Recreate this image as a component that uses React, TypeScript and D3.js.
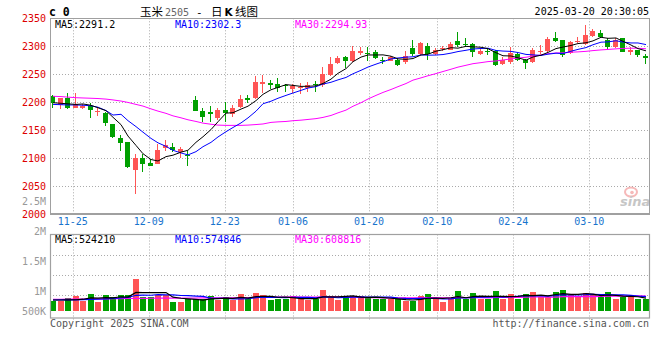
import React from "react";
import * as d3 from "d3";

// ---------- data ----------
const dates = [
  "2024-11-20","2024-11-21","2024-11-22","2024-11-25","2024-11-26","2024-11-27","2024-11-28","2024-11-29",
  "2024-12-02","2024-12-03","2024-12-04","2024-12-05","2024-12-06","2024-12-09","2024-12-10","2024-12-11",
  "2024-12-12","2024-12-13","2024-12-16","2024-12-17","2024-12-18","2024-12-19","2024-12-20","2024-12-23",
  "2024-12-24","2024-12-25","2024-12-26","2024-12-27","2024-12-30","2024-12-31","2025-01-02","2025-01-03",
  "2025-01-06","2025-01-07","2025-01-08","2025-01-09","2025-01-10","2025-01-13","2025-01-14","2025-01-15",
  "2025-01-16","2025-01-17","2025-01-20","2025-01-21","2025-01-22","2025-01-23","2025-01-24","2025-01-27",
  "2025-02-05","2025-02-06","2025-02-07","2025-02-10","2025-02-11","2025-02-12","2025-02-13","2025-02-14",
  "2025-02-17","2025-02-18","2025-02-19","2025-02-20","2025-02-21","2025-02-24","2025-02-25","2025-02-26",
  "2025-02-27","2025-02-28","2025-03-03","2025-03-04","2025-03-05","2025-03-06","2025-03-07","2025-03-10",
  "2025-03-11","2025-03-12","2025-03-13","2025-03-14","2025-03-17","2025-03-18","2025-03-19","2025-03-20",
];

const open = [
  2211,2195,2207,2189,2189,2193,2183,2181,2161,2136,2128,2079,2101,2092,2090,2118,
  2120,2111,2105,2204,2184,2182,2171,2186,2179,2192,2208,2208,2233,2235,2232,2230,
  2224,2226,2226,2232,2230,2248,2270,2280,2273,2288,2288,2289,2275,2274,2276,2271,
  2296,2287,2300,2287,2295,2294,2310,2304,2304,2287,2292,2292,2269,2272,2287,2275,
  2272,2291,2292,2315,2311,2288,2308,2304,2318,2323,2312,2298,2314,2290,2293,2282,
];
const high = [
  2213,2208,2217,2216,2197,2199,2190,2182,2161,2142,2129,2107,2108,2099,2125,2132,
  2127,2119,2113,2211,2189,2193,2189,2200,2195,2213,2213,2246,2248,2239,2244,2233,
  2232,2235,2236,2238,2263,2280,2283,2283,2300,2298,2298,2293,2280,2283,2279,2292,
  2311,2308,2305,2297,2300,2307,2325,2314,2305,2296,2296,2294,2281,2299,2289,2278,
  2296,2302,2316,2325,2312,2310,2316,2338,2330,2329,2314,2314,2314,2298,2294,2287,
];
const low = [
  2189,2188,2188,2189,2188,2172,2176,2158,2136,2113,2082,2036,2076,2085,2090,2113,
  2111,2100,2085,2185,2165,2164,2168,2165,2173,2190,2199,2205,2217,2223,2218,2218,
  2217,2215,2218,2218,2227,2246,2268,2261,2271,2285,2273,2277,2268,2273,2265,2269,
  2283,2285,2275,2285,2291,2293,2299,2300,2281,2284,2284,2265,2267,2269,2274,2260,
  2270,2287,2290,2308,2281,2287,2305,2302,2317,2314,2294,2296,2289,2284,2280,2269,
];
const close = [
  2198,2207,2189,2197,2193,2186,2185,2163,2138,2127,2084,2101,2089,2086,2114,2123,
  2114,2116,2103,2185,2173,2178,2186,2180,2189,2205,2204,2236,2236,2230,2226,2229,
  2229,2227,2231,2230,2250,2268,2279,2273,2292,2291,2287,2279,2274,2280,2267,2283,
  2286,2306,2287,2294,2296,2304,2302,2303,2290,2292,2291,2266,2276,2288,2276,2270,
  2294,2292,2313,2310,2284,2308,2309,2320,2327,2316,2299,2312,2290,2294,2284,2279,
];
const volume = [
  412000,412000,520000,600000,412000,680000,360000,628000,548000,628000,628000,1280000,572000,572000,628000,628000,
  360000,360000,468000,492000,492000,600000,440000,548000,440000,680000,468000,720000,628000,440000,492000,492000,
  600000,468000,440000,492000,840000,600000,440000,548000,600000,600000,548000,468000,468000,468000,468000,412000,
  388000,600000,680000,492000,360000,520000,812000,468000,720000,468000,468000,800000,468000,680000,492000,680000,
  760000,548000,548000,760000,840000,628000,548000,720000,628000,548000,760000,480000,572000,548000,492000,492000,
];

// moving-average values before a full window exists
const ma5Lead = [2199, 2198, 2197, 2196];
const ma10Lead = [2196, 2195.5, 2195, 2195, 2194.5, 2193.5, 2191, 2185, 2177];
const ma30Lead = [
  2210.5, 2210, 2209, 2208, 2207.5, 2207, 2206.5, 2205.5, 2204, 2202, 2199.5, 2196, 2193, 2188, 2184,
  2180, 2175.5, 2172, 2168.5, 2165.5, 2162.5, 2160.5, 2159, 2158.5, 2158.5, 2158.5, 2159, 2160, 2161,
];
const volMa5Lead = [440000, 440000, 445000, 450000];
const volMa10Lead = [440000, 442000, 445000, 448000, 452000, 460000, 470000, 485000, 500000];
const volMa30Lead = [
  470000, 470000, 472000, 475000, 478000, 480000, 484000, 488000, 492000, 496000, 500000, 505000, 508000, 510000, 512000,
  514000, 515000, 516000, 518000, 520000, 522000, 524000, 526000, 528000, 530000, 534000, 538000, 544000, 550000,
];

const priceTicks = [2000, 2050, 2100, 2150, 2200, 2250, 2300, 2350];
const xTickDates = ["2024-11-25", "2024-12-09", "2024-12-23", "2025-01-06", "2025-01-20", "2025-02-10", "2025-02-24", "2025-03-10"];
const xTickLabels = ["11-25", "12-09", "12-23", "01-06", "01-20", "02-10", "02-24", "03-10"];
const volTickValues = [2500000, 2000000, 1500000, 1000000, 500000];
const volTickLabels = ["2.5M", "2M", "1.5M", "1M", "500K"];
const priceLegend = ["MA5:2291.2", "MA10:2302.3", "MA30:2294.93"];
const volLegend = ["MA5:524210", "MA10:574846", "MA30:608816"];
const maColors = ["#000000", "#0000ff", "#ff00ff"];

// ---------- helpers ----------
function movingAvg(values: number[], n: number, lead: number[]) {
  return values.map((_, i) => (i < n - 1 ? lead[i] : (d3.mean(values.slice(i - n + 1, i + 1)) as number)));
}

const MONO = "'DejaVu Sans Mono', monospace";
const CJK = "'Noto Sans CJK SC', sans-serif";
const UP = "#ff5555";
const DOWN = "#00a000";

export default function App() {
  const P = { l: 50, r: 650, t: 18.3, b: 214 };
  const V = { l: 50, r: 650, t: 234.5, b: 318, gridB: 315.5 };

  const xBand = d3.scaleBand<string>().domain(dates).range([49.25, 649.25]).paddingInner(0.2).paddingOuter(0.1);
  const xPoint = d3.scalePoint<string>().domain(dates).range([P.l, P.r]);
  const yPrice = d3.scaleLinear().domain([2000, 2350]).range([P.b, P.t]);
  const yVol = d3.scaleLinear().domain([0, 1000000]).range([311, 286]);
  const yVolAxis = d3.scaleLinear().domain([1000000, 2000000]).range([291, 231]);

  const bw = Math.round(xBand.bandwidth());
  const bx = (i: number) => Math.round(xBand(dates[i]) as number);
  const cx = (i: number) => bx(i) + bw / 2;

  const ma5 = movingAvg(close, 5, ma5Lead);
  const ma10 = movingAvg(close, 10, ma10Lead);
  const ma30 = movingAvg(close, 30, ma30Lead);
  const vma5 = movingAvg(volume, 5, volMa5Lead);
  const vma10 = movingAvg(volume, 10, volMa10Lead);
  const vma30 = movingAvg(volume, 30, volMa30Lead);

  const priceLine = d3.line<number>().x((_, i) => cx(i)).y((v) => yPrice(v));
  const volLine = d3.line<number>().x((_, i) => cx(i)).y((v) => yVol(v));

  const volGridY = d3.range(1, 4).map((k) => V.t + (k * (V.gridB - V.t)) / 4);

  return (
    <div style={{ position: "absolute", left: 0, top: 0 }}>
      <svg width={660} height={360} style={{ display: "block", background: "#fff" }}>
        <defs>
          <clipPath id="pclip">
            <rect x={P.l} y={P.t} width={P.r - P.l} height={P.b - P.t} />
          </clipPath>
          <clipPath id="vclip">
            <rect x={V.l} y={V.t} width={V.r - V.l} height={V.b - V.t} />
          </clipPath>
        </defs>

        {/* header */}
        <text x={49} y={16} fontFamily={MONO} fontWeight="bold" fontSize={11.5} fill="#000">c 0</text>
        <text x={140} y={15.5} fontSize={11.5} fill="#000" fontFamily={CJK}>玉米</text>
        <text x={165} y={15.5} fontSize={10} fill="#666" fontFamily={MONO}>2505</text>
        <text x={196} y={15.5} fontSize={11} fill="#000" fontFamily={MONO}>-</text>
        <text x={211} y={15.5} fontSize={11.5} fill="#000" fontFamily={CJK}>日</text>
        <text x={224.5} y={15.5} fontSize={10.5} fontWeight="bold" fill="#000" fontFamily="'DejaVu Sans', sans-serif">K</text>
        <text x={235} y={15.5} fontSize={11.5} fill="#000" fontFamily={CJK}>线图</text>
        <text x={649} y={15} textAnchor="end" fontFamily={MONO} fontSize={10} fill="#000">2025-03-20 20:30:05</text>

        {/* grid */}
        <g stroke="#aaa" strokeWidth={1} strokeDasharray="1,2">
          {priceTicks.slice(1, -1).map((t) => (
            <line key={t} x1={P.l} x2={P.r} y1={Math.round(yPrice(t)) + 0.5} y2={Math.round(yPrice(t)) + 0.5} />
          ))}
          {xTickDates.map((d) => {
            const x = Math.round(xPoint(d) as number) + 0.5;
            return (
              <g key={d}>
                <line x1={x} x2={x} y1={P.t} y2={P.b} />
                <line x1={x} x2={x} y1={V.t} y2={V.b + 2} />
              </g>
            );
          })}
          {volGridY.map((y) => (
            <line key={y} x1={V.l} x2={V.r} y1={Math.round(y) + 0.5} y2={Math.round(y) + 0.5} />
          ))}
        </g>

        {/* price axis labels */}
        {priceTicks.map((t) => (
          <text key={t} x={46} y={yPrice(t) + 3.5} textAnchor="end" fontFamily={MONO} fontSize={10} fill="#dd0000">
            {t}
          </text>
        ))}
        {/* date labels */}
        {xTickDates.map((d, k) => (
          <text key={d} x={xPoint(d) as number} y={225} textAnchor="middle" fontFamily={MONO} fontSize={10} fill="#1874cd">
            {xTickLabels[k]}
          </text>
        ))}
        {/* volume axis labels */}
        {volTickValues.map((v, k) => (
          <text key={v} x={46} y={Math.min(yVolAxis(v), 311) + 3.5} textAnchor="end" fontFamily={MONO} fontSize={10} fill="#999">
            {volTickLabels[k]}
          </text>
        ))}

        {/* candles */}
        <g clipPath="url(#pclip)">
          {dates.map((d, i) => {
            const up = close[i] >= open[i];
            const col = up ? UP : DOWN;
            const top = Math.round(yPrice(Math.max(open[i], close[i])));
            const bot = Math.round(yPrice(Math.min(open[i], close[i])));
            const wx = bx(i) + 2.5;
            return (
              <g key={d}>
                <line x1={wx} x2={wx} y1={Math.round(yPrice(high[i]))} y2={Math.round(yPrice(low[i]))} stroke={col} strokeWidth={1} />
                <rect x={bx(i)} y={top} width={bw - 1} height={Math.max(1, bot - top)} fill={col} />
              </g>
            );
          })}
          <path d={priceLine(ma30) as string} fill="none" stroke={maColors[2]} strokeWidth={1} />
          <path d={priceLine(ma10) as string} fill="none" stroke={maColors[1]} strokeWidth={1} />
          <path d={priceLine(ma5) as string} fill="none" stroke={maColors[0]} strokeWidth={1} />
        </g>

        {/* volume bars */}
        <g clipPath="url(#vclip)">
          {dates.map((d, i) => {
            const up = close[i] >= open[i];
            const y = Math.round(yVol(volume[i]));
            return <rect key={d} x={bx(i)} y={y} width={bw} height={Math.round(yVol(0)) - y} fill={up ? UP : DOWN} />;
          })}
          <path d={volLine(vma30) as string} fill="none" stroke={maColors[2]} strokeWidth={1.2} />
          <path d={volLine(vma10) as string} fill="none" stroke={maColors[1]} strokeWidth={1.2} />
          <path d={volLine(vma5) as string} fill="none" stroke={maColors[0]} strokeWidth={1.2} />
        </g>

        {/* legends */}
        {priceLegend.map((s, k) => (
          <text key={s} x={55 + k * 120} y={27.5} fontFamily={MONO} fontSize={10} fill={maColors[k]}>{s}</text>
        ))}
        {volLegend.map((s, k) => (
          <text key={s} x={55 + k * 120} y={242.5} fontFamily={MONO} fontSize={10} fill={maColors[k]}>{s}</text>
        ))}

        {/* panel borders */}
        <rect x={P.l + 0.5} y={Math.round(P.t) + 0.5} width={P.r - P.l - 1} height={P.b - Math.round(P.t) - 0.5} fill="none" stroke="#a0a0a0" strokeWidth={1} />
        <line x1={P.l} x2={P.r} y1={P.b} y2={P.b} stroke="#a0a0a0" strokeWidth={2} />
        <rect x={V.l + 0.5} y={V.t} width={V.r - V.l - 1} height={V.b - V.t} fill="none" stroke="#a0a0a0" strokeWidth={1.2} />

        {/* sina watermark */}
        <g opacity={0.55}>
          <ellipse cx={631} cy={192} rx={6} ry={4.5} fill="none" stroke="#f08080" strokeWidth={2} />
          <circle cx={632} cy={192.5} r={1.8} fill="#f08080" />
          <text x={620} y={206} fontFamily="'DejaVu Sans', sans-serif" fontStyle="italic" fontWeight="bold" fontSize={13} fill="#999">sina</text>
        </g>

        {/* footer */}
        <text x={50} y={327} fontFamily={MONO} fontSize={10} fill="#555">Copyright 2025 SINA.COM</text>
        <text x={649} y={327} textAnchor="end" fontFamily={MONO} fontSize={10} fill="#555">http://finance.sina.com.cn</text>
      </svg>
    </div>
  );
}
